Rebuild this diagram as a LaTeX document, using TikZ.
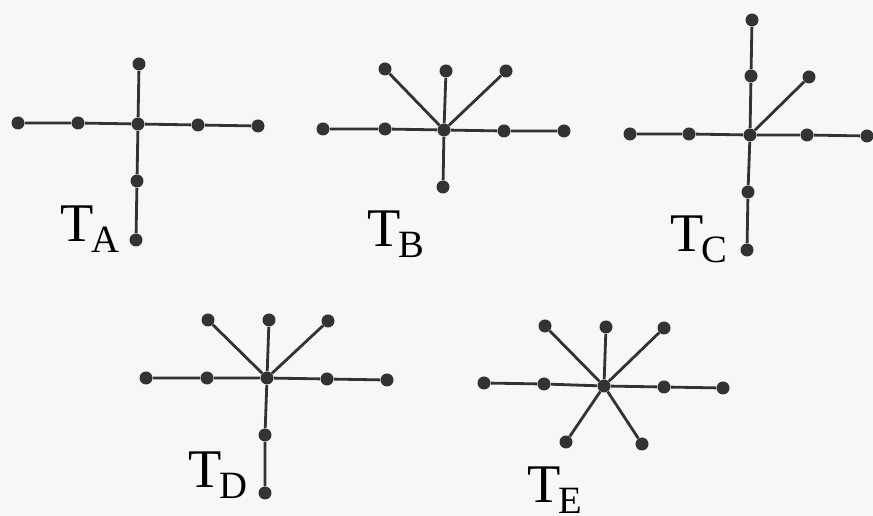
\documentclass[tikz,border=0pt]{standalone}
\usepackage{fontspec}
\setmainfont{Liberation Serif}
\newcommand{\tsub}[1]{\kern-1pt\raisebox{-0.22cm}{\fontsize{22}{22}\selectfont #1}}
\tikzset{
  vtx/.style={circle, fill=black!80, inner sep=0pt, minimum size=0.26cm},
  edge/.style={draw=black!80, line width=1.6pt},
  tlabel/.style={anchor=base west, inner sep=0pt, font=\fontsize{31}{34}\selectfont}
}
\begin{document}
\begin{tikzpicture}[x=0.02cm, y=-0.02cm]
\useasboundingbox[fill=black!3] (0,0) rectangle (873,516);

% T_A
\node[vtx] (a0) at (138,124) {};
\node[vtx] (a1) at (18,123) {};
\node[vtx] (a2) at (78,123) {};
\node[vtx] (a3) at (198,125) {};
\node[vtx] (a4) at (258,126) {};
\node[vtx] (a5) at (139,64) {};
\node[vtx] (a6) at (137,181) {};
\node[vtx] (a7) at (136,240) {};
\node[tlabel] (la) at (60,242) {T\tsub{A}};
\draw[edge] (a1) -- (a2) -- (a0) -- (a3) -- (a4);
\draw[edge] (a5) -- (a0) -- (a6) -- (a7);

% T_B
\node[vtx] (b0) at (444,130) {};
\node[vtx] (b1) at (323,129) {};
\node[vtx] (b2) at (385,129) {};
\node[vtx] (b3) at (504,131) {};
\node[vtx] (b4) at (564,131) {};
\node[vtx] (b5) at (385,69) {};
\node[vtx] (b6) at (446,71) {};
\node[vtx] (b7) at (506,71) {};
\node[vtx] (b8) at (443,187) {};
\node[tlabel] (lb) at (367,247) {T\tsub{B}};
\draw[edge] (b1) -- (b2) -- (b0) -- (b3) -- (b4);
\draw[edge] (b5) -- (b0) -- (b7);
\draw[edge] (b6) -- (b0) -- (b8);

% T_C
\node[vtx] (c0) at (750,135) {};
\node[vtx] (c1) at (630,134) {};
\node[vtx] (c2) at (689,134) {};
\node[vtx] (c3) at (807,135) {};
\node[vtx] (c4) at (867,136) {};
\node[vtx] (c5) at (752,20) {};
\node[vtx] (c6) at (751,76) {};
\node[vtx] (c7) at (809,77) {};
\node[vtx] (c8) at (748,192) {};
\node[vtx] (c9) at (747,250) {};
\node[tlabel] (lc) at (670,252) {T\tsub{C}};
\draw[edge] (c1) -- (c2) -- (c0) -- (c3) -- (c4);
\draw[edge] (c5) -- (c6) -- (c0) -- (c8) -- (c9);
\draw[edge] (c0) -- (c7);

% T_D
\node[vtx] (d0) at (267,378) {};
\node[vtx] (d1) at (146,378) {};
\node[vtx] (d2) at (207,378) {};
\node[vtx] (d3) at (327,379) {};
\node[vtx] (d4) at (387,380) {};
\node[vtx] (d5) at (208,320) {};
\node[vtx] (d6) at (269,320) {};
\node[vtx] (d7) at (328,321) {};
\node[vtx] (d8) at (265,435) {};
\node[vtx] (d9) at (265,493) {};
\node[tlabel] (ld) at (188,488) {T\tsub{D}};
\draw[edge] (d1) -- (d2) -- (d0) -- (d3) -- (d4);
\draw[edge] (d5) -- (d0) -- (d7);
\draw[edge] (d6) -- (d0) -- (d8) -- (d9);

% T_E
\node[vtx] (e0) at (604,386) {};
\node[vtx] (e1) at (484,383) {};
\node[vtx] (e2) at (544,384) {};
\node[vtx] (e3) at (664,387) {};
\node[vtx] (e4) at (723,388) {};
\node[vtx] (e5) at (545,326) {};
\node[vtx] (e6) at (606,327) {};
\node[vtx] (e7) at (664,328) {};
\node[vtx] (e8) at (566,442) {};
\node[vtx] (e9) at (642,444) {};
\node[tlabel] (le) at (527,503) {T\tsub{E}};
\draw[edge] (e1) -- (e2) -- (e0) -- (e3) -- (e4);
\draw[edge] (e5) -- (e0) -- (e9);
\draw[edge] (e7) -- (e0) -- (e8);
\draw[edge] (e6) -- (e0);
\end{tikzpicture}
\end{document}
